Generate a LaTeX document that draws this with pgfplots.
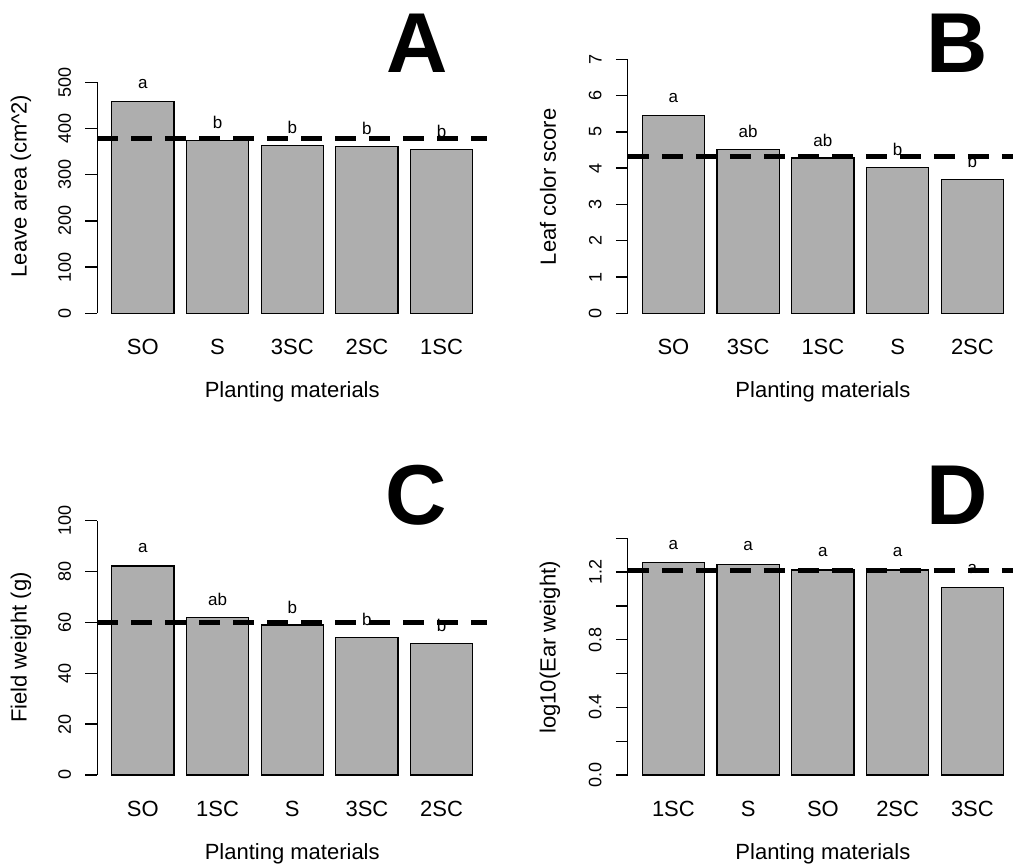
\documentclass[border=0pt]{standalone}
\usepackage{fontspec}
\setmainfont{Liberation Sans}
\usepackage{pgfplots}
\pgfplotsset{compat=1.18}
\definecolor{barfill}{RGB}{174,174,174}
\pgfplotsset{
  rpanel/.style={
    scale only axis,
    anchor=south west,
    clip=false,
    xmin=-0.032, xmax=6.232,
    ymin=0,
    axis x line=bottom,
    axis y line=left,
    x axis line style={draw=none},
    y axis line style={-, line width=1.3pt, black},
    xtick={0.7,1.9,3.1,4.3,5.5},
    xtick style={draw=none},
    ytick style={draw=black, line width=1.3pt},
    tick align=outside,
    major tick length=12pt,
    /pgf/number format/assume math mode=true,
    xticklabel style={font=\fontsize{22}{24}\selectfont, anchor=center, yshift=-22pt, inner sep=0pt},
    yticklabel style={font=\fontsize{18}{20}\selectfont, rotate=90, anchor=south, inner sep=0pt, yshift=14pt},
    label style={font=\fontsize{22}{24}\selectfont},
    xlabel={Planting materials},
    xlabel style={at={(axis description cs:0.5,0)}, anchor=center, yshift=-78.4pt},
  },
  rbars/.style={ybar, bar width=1, bar shift=0pt, fill=barfill, draw=black, line width=1.2pt,
    nodes near coords, point meta=explicit symbolic,
    every node near coord/.append style={font=\fontsize{17}{19}\selectfont, anchor=center, yshift=18pt, black}},
  rmean/.style={black, line width=5pt, dash pattern=on 21pt off 13pt, forget plot},
}
\begin{document}
\begin{tikzpicture}
\path[use as bounding box] (0,0) rectangle (1013pt,866pt);
% Panel A
\begin{axis}[rpanel, at={(97.3pt,552.7pt)}, width=389.9pt, height=231pt,
  ymax=500, ytick={0,100,200,300,400,500},
  xticklabels={SO,S,3SC,2SC,1SC},
  ylabel={Leave area (cm\textasciicircum 2)},
  ylabel style={at={(axis description cs:0,0.551)}, anchor=center, yshift=76.3pt}]
\addplot[rbars] table[x=x,y=y,meta=l] {
x y l
0.7 458.0 a
1.9 373.6 b
3.1 362.8 b
4.3 360.6 b
5.5 355.0 b
};
\addplot[rmean] coordinates {(-0.032,378.8) (6.232,378.8)};
\end{axis}
% Panel B
\begin{axis}[rpanel, at={(627.8pt,552.7pt)}, width=390.2pt, height=254pt,
  ymax=7, ytick={0,1,2,3,4,5,6,7},
  xticklabels={SO,3SC,1SC,S,2SC},
  ylabel={Leaf color score},
  ylabel style={at={(axis description cs:0,0.498)}, anchor=center, yshift=79.8pt}]
\addplot[rbars] table[x=x,y=y,meta=l] {
x y l
0.7 5.44 a
1.9 4.52 ab
3.1 4.28 ab
4.3 4.01 b
5.5 3.69 b
};
\addplot[rmean] coordinates {(-0.032,4.32) (6.232,4.32)};
\end{axis}
% Panel C
\begin{axis}[rpanel, at={(97.3pt,91pt)}, width=389.9pt, height=254.3pt,
  ymax=100, ytick={0,20,40,60,80,100},
  xticklabels={SO,1SC,S,3SC,2SC},
  ylabel={Field weight (g)},
  ylabel style={at={(axis description cs:0,0.501)}, anchor=center, yshift=76.3pt}]
\addplot[rbars] table[x=x,y=y,meta=l] {
x y l
0.7 82.2 a
1.9 61.9 ab
3.1 59.0 b
4.3 54.0 b
5.5 51.8 b
};
\addplot[rmean] coordinates {(-0.032,60.0) (6.232,60.0)};
\end{axis}
% Panel D
\begin{axis}[rpanel, at={(627.8pt,91pt)}, width=390.2pt, height=236.7pt,
  ymax=1.4, ytick={0,0.2,0.4,0.6,0.8,1.0,1.2,1.4},
  yticklabels={0.0,,0.4,,0.8,,1.2,},
  xticklabels={1SC,S,SO,2SC,3SC},
  ylabel={log10(Ear weight)},
  ylabel style={at={(axis description cs:0,0.539)}, anchor=center, yshift=77.8pt}]
\addplot[rbars] table[x=x,y=y,meta=l] {
x y l
0.7 1.256 a
1.9 1.246 a
3.1 1.213 a
4.3 1.213 a
5.5 1.110 a
};
\addplot[rmean] coordinates {(-0.032,1.207) (6.232,1.207)};
\end{axis}
\node[anchor=base, inner sep=0pt, font=\fontsize{85}{85}\selectfont\bfseries] at (417pt,793.7pt) {A};
\node[anchor=base, inner sep=0pt, font=\fontsize{85}{85}\selectfont\bfseries] at (957pt,793.7pt) {B};
\node[anchor=base, inner sep=0pt, font=\fontsize{85}{85}\selectfont\bfseries] at (416pt,341.7pt) {C};
\node[anchor=base, inner sep=0pt, font=\fontsize{85}{85}\selectfont\bfseries] at (957pt,341.7pt) {D};
\end{tikzpicture}
\end{document}
